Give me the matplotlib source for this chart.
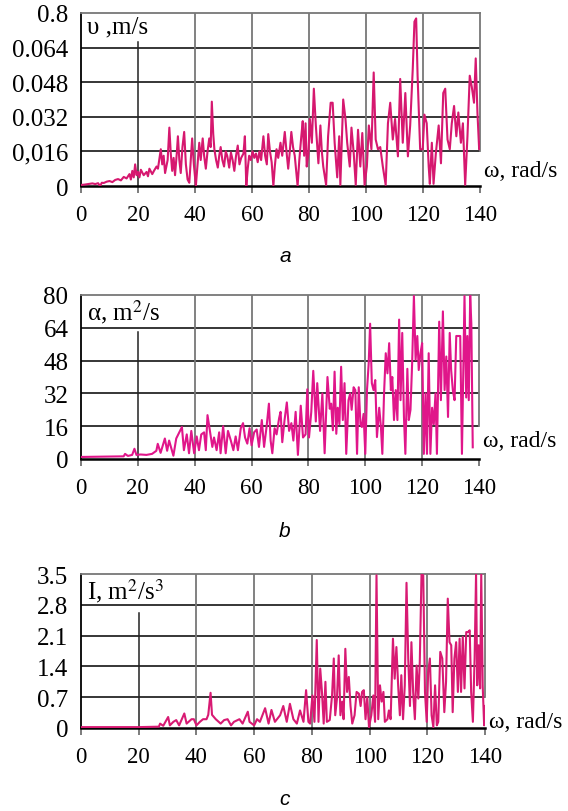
import numpy as np
import matplotlib
matplotlib.use('Agg')
import matplotlib.pyplot as plt

plt.rcParams['font.family'] = ['Liberation Serif', 'DejaVu Serif']
plt.rcParams['mathtext.fontset'] = 'stix'

# ---------------- data ----------------
x_ticks = [0, 20, 40, 60, 80, 100, 120, 140]
x_ticklabels = ["0", "20", "40", "60", "80", "100", "120", "140"]

# panel a: velocity, in units of 1e-3 m/s
omega_a = [0, 1, 2, 3, 4, 5, 6, 6.7, 7.3, 8, 9, 10, 11, 12, 13, 14, 15, 16, 17, 17.5,
           18, 18.5, 19, 19.5, 20, 20.5, 21, 22, 23, 23.5, 24, 25, 25.6, 26.5, 27, 28, 28.5, 29, 29.5, 30.4,
           31, 31.5, 32, 32.5, 33, 33.6, 34, 34.5, 35, 35.6, 36.2, 36.8, 37.4, 38, 38.5, 39, 39.6, 40.3,
           41, 41.5, 42, 42.7, 43.2, 43.8, 44.4, 45, 45.5, 45.9, 46.4, 46.8, 47.4, 48, 48.5, 49, 49.6,
           50.2, 50.8, 51.3, 52, 52.6, 53.2, 53.8, 54.4, 55, 55.6, 56.2, 57, 57.5, 58, 58.5, 59, 59.6,
           60.2, 60.8, 61.4, 62, 62.6, 63.2, 64, 64.6, 65.2, 65.7, 66.3, 66.9, 67.5, 68, 68.6, 69.2,
           70, 70.6, 71.5, 72.1, 72.7, 73.2, 73.8, 74.4, 75, 75.5, 76, 76.6, 77.3, 77.8, 78.3, 78.8,
           79.2, 79.8, 80.3, 81, 81.7, 82.4, 83.3, 84, 84.5, 85, 86, 86.7, 87.6, 88.3, 89, 89.9, 90.6,
           91, 92, 92.8, 93.4, 94.3, 94.9, 95.7, 96.4, 97.2, 98, 98.7, 99.5, 100.3, 101, 101.9, 102.7,
           103.4, 104.2, 105, 105.9, 106.9, 107.7, 108.5, 109.4, 110.2, 111.2, 112, 112.9, 113.8,
           114.7, 115.5, 116.4, 117, 117.6, 118.1, 119, 119.9, 120.5, 121.3, 122, 122.4, 123.1,
           123.7, 124.5, 125.5, 126.3, 127.1, 127.8, 128.6, 129.4, 130.1, 130.9, 131.7, 132.4,
           133.3, 134, 134.8, 135.6, 136.4, 137.1, 137.9, 138.5, 139.1, 139.7, 140]
v_a = [0.5, 0.6, 0.8, 1.0, 1.2, 0.9, 1.3, 0, 1.5, 1.4, 2.0, 2.3, 1.8, 2.8, 3.2, 2.6, 4.2, 3.5, 5.5, 3,
       7, 4, 10, 5, 6.5, 4, 7.5, 5, 6.5, 4.5, 8, 5.5, 7, 9, 8, 17, 10, 14, 6, 12,
       27, 15, 7, 13, 5, 15, 23, 12, 6, 18, 25, 10, 3, 1.5, 12, 22, 10, 0,
       12, 20, 12, 22, 14, 8, 16, 22, 18, 39, 24, 17, 12, 8.5, 14, 18, 12,
       9, 16, 14, 8.5, 15.5, 12, 7, 14, 18.7, 10, 13, 15, 23, 0, 8, 14, 12,
       16, 13, 15, 11, 16, 12, 23, 14, 10, 24, 16, 11, 0, 9, 17, 13,
       20, 14, 25, 16, 8, 15, 25, 18, 14, 7, 0, 12, 23, 30, 14, 29,
       9, 15, 31, 20, 45, 28, 10.5, 28, 16, 9, 0.5, 23, 38.5, 38.5, 20, 4, 23,
       0.5, 40, 31, 20, 9, 27, 15, 0.5, 26, 9, 24.5, 0.5, 9, 28, 17, 52.5,
       21.5, 17, 18, 9, 0.5, 29, 38.5, 21.5, 31, 13.7, 49.5, 20, 43,
       13.7, 28, 54, 76, 77.5, 51, 17, 17, 33, 29, 9, 1, 20,
       1, 15, 28, 10.5, 43, 45, 21.5, 17, 29, 37, 23, 34,
       20, 29, 0.5, 23, 51, 46, 38.5, 59, 34, 17, 20]
yticks_a = [0, 16, 32, 48, 64, 80]
ylabels_a = ["0", "0,016", "0.032", "0.048", "0.064", "0.8"]

# panel b: alpha, m^2/s
omega_b = [0, 5, 10, 15, 15.5, 16.5, 18, 18.8, 19.5, 21, 23, 25, 26.5, 27, 28, 29.5, 30.3, 31, 32.5,
           33.5, 35.5, 36.2, 37.2, 38, 38.8, 39.8, 40.7, 41.5, 42.3, 43.3, 43.9, 44.5, 45.4, 46.2,
           46.8, 47.7, 48.6, 49.1, 50, 50.9, 51.7, 52.7, 53.6, 54.4, 55.2, 56.2, 57, 57.7, 58.5,
           59.3, 60, 60.9, 61.8, 62.6, 63.6, 64.4, 65.3, 66.1, 66.7, 67.3, 68.1, 68.8, 69.7, 70.2,
           70.8, 71.6, 72.4, 73.2, 74, 74.7, 75.5, 76.3, 77.3, 78.1, 79, 79.6, 80.2, 81, 81.7, 82.6,
           83.1, 84.1, 84.9, 85.7, 86.7, 87.5, 88, 88.6, 89.2, 89.8, 90.3, 90.9, 91.5, 92.1, 92.7,
           93.3, 94.1, 94.7, 95.2, 95.9, 96.5, 97.1, 97.7, 98.3, 98.8, 99.4, 100, 100.6, 101.2,
           101.7, 102.3, 102.9, 103.5, 104.1, 104.9, 105.5, 106, 106.6, 107.2, 107.8, 108.4, 109,
           109.5, 110.1, 110.7, 111.3, 111.9, 112.4, 113, 113.6, 114.1, 114.8, 115.3, 115.9, 116.5,
           117.1, 117.7, 118.3, 118.8, 119.4, 120, 120.6, 121.2, 121.7, 122.3, 122.9, 123.5, 124.1,
           124.7, 125.2, 126, 126.6, 127.3, 127.9, 128.5, 129.1, 129.7, 130.2, 130.8, 131.4, 132,
           133.4, 134, 134.5, 134.9, 135.5, 135.9, 136.4, 136.9, 137.3, 137.8]
alpha_b = [1.0, 1.1, 1.2, 1.3, 2.5, 1.5, 2, 5, 2, 2.2, 2, 2.5, 4, 7.4, 3, 10, 4, 9, 1.6,
           10, 15.6, 4.3, 12, 2.8, 13.7, 2.8, 11, 4.3, 12, 13, 4.3, 21.4, 13, 5.9,
           10.5, 4.3, 13, 2.8, 16, 2.8, 13.7, 9, 4.3, 11, 4.3, 15, 17.5, 10.5, 7.5,
           15, 6.7, 13, 14.4, 5.9, 19, 5.9, 16, 27, 9, 2.8, 15, 12, 20, 23,
           8.2, 19, 27.6, 13.7, 17.5, 9, 23, 2, 26, 10.5, 12, 34, 10.5, 23, 43, 18.3,
           37, 13.7, 32, 2.8, 40, 24.5, 27, 14, 42.6, 12.3, 25, 17, 45, 19, 37,
           2.5, 28.7, 32, 24, 35, 33.6, 2.5, 35, 17, 15.6, 22, 2.5, 33.6, 46.7,
           66, 37, 33.6, 38.5, 10.7, 25, 15.6, 2.5, 32, 51.6, 41.8, 56.5, 33.6,
           40, 19, 33.6, 19, 68, 28.7, 61.5, 20.5, 2.5, 44, 19, 24, 47.5,
           79.5, 48.4, 60, 43.4, 51.6, 56.5, 2.5, 32, 2.5, 51.6, 2.5, 25, 17,
           32, 2.5, 67, 28.7, 72, 33.6, 50, 20.5, 61.5, 43.4, 33.6, 28.7, 60,
           60, 2.5, 46.7, 79.5, 30, 60, 28.7, 80, 66, 5.7]
yticks_b = [0, 16, 32, 48, 64, 80]
ylabels_b = ["0", "16", "32", "48", "64", "80"]

# panel c: I, m^2/s^3
omega_c = [0, 10, 20, 27, 27.4, 28.5, 30.2, 30.8, 32, 33, 34, 35.8, 36.6, 38.3, 39.1, 40, 41.2,
           42.3, 43.5, 44.1, 44.9, 45.4, 46.7, 48.4, 49.6, 50.8, 52, 53, 54.9, 56, 57.8, 58.4, 60,
           61, 62, 63.8, 65, 66, 67.2, 69, 70.1, 71.3, 72.4, 73.6, 74.8, 75.9, 77.1, 78, 78.8,
           79.4, 80.2, 80.9, 81.7, 82.3, 82.9, 83.5, 84.1, 84.7, 85.2, 86.2, 87, 87.6, 88.1, 88.7,
           89.3, 89.9, 90.5, 91, 91.6, 92.2, 92.8, 93.4, 94, 94.8, 95.5, 96.3, 96.9, 97.4, 98,
           98.6, 99.2, 99.8, 100.6, 101.3, 101.9, 102.4, 103, 103.6, 104.2, 104.8, 105.3, 106.2,
           106.7, 107.3, 108.1, 108.7, 109.3, 109.9, 110.5, 111, 111.6, 112.2, 112.8, 113.4, 114,
           114.5, 115.1, 115.7, 116.3, 116.9, 117.4, 118, 118.6, 119.2, 119.8, 120.3, 120.9, 121.5,
           122.1, 122.7, 123.3, 123.8, 124.5, 125.2, 125.9, 126.5, 127.1, 127.7, 128.3, 128.8,
           129.4, 130, 130.6, 131.2, 131.7, 132.3, 132.9, 133.5, 134.1, 134.7, 135.2, 135.8,
           136.4, 136.9, 137.3, 137.8, 138.3, 138.7, 139.2, 139.7, 140]
I_c = [0.02, 0.02, 0.02, 0.03, 0.1, 0.05, 0.25, 0.06, 0.14, 0.18, 0.06, 0.33, 0.1, 0.2, 0.2, 0.06, 0.14,
       0.2, 0.2, 0.3, 0.8, 0.3, 0.2, 0.1, 0.18, 0.2, 0.06, 0.14, 0.2, 0.1, 0.37, 0.14, 0.06,
       0.2, 0.14, 0.45, 0.1, 0.41, 0.14, 0.29, 0.5, 0.14, 0.55, 0.2, 0.1, 0.4, 0.14, 0.86, 0.14,
       0.1, 0.74, 0.14, 2.0, 0.14, 1.35, 0.82, 0.1, 1.05, 0.14, 0.18, 0.74, 1.58, 0.29, 0.67,
       1.65, 0.29, 0.6, 0.2, 1.8, 0.82, 1.16, 0.5, 0.1, 0.29, 0.82, 0.78, 0.5, 0.82, 0.86,
       0.2, 0.7, 0.02, 0.29, 0.74, 0.14, 3.47, 0.2, 0.97, 0.6, 0.82, 0.14, 0.2,
       0.4, 0.2, 2.03, 1.12, 1.84, 0.97, 0.29, 1.2, 0.2, 0.97, 3.3, 1.58, 0.5,
       1.95, 0.82, 0.2, 1.42, 0.67, 1.5, 3.5, 3.47, 0.82, 0.14, 1.27, 1.58, 0.29,
       0.02, 0.97, 0.06, 0.14, 1.73, 1.58, 0.36, 1.05, 2.94, 1.95, 1.88, 0.36,
       1.58, 1.95, 0.82, 2.03, 0.82, 2.07, 0.9, 2.18, 2.18, 2.22, 0.82, 0.14,
       1.58, 3.5, 0.97, 1.88, 0.9, 3.5, 0.97, 0.06, 0.5]
yticks_c = [0, 0.7, 1.4, 2.1, 2.8, 3.5]
ylabels_c = ["0", "0.7", "1.4", "2.1", "2.8", "3.5"]

# ---------------- figure ----------------
W, H = 568, 812
fig = plt.figure(figsize=(W / 100, H / 100), dpi=100)

def px_axes(left, top, right, bottom):
    return fig.add_axes([left / W, 1 - bottom / H, (right - left) / W, (bottom - top) / H])

panels = [
    dict(box=(81, 14, 480, 187), x=omega_a, y=v_a, yt=yticks_a, yl=ylabels_a,
         color='#d6186f', f20=0.83, title='υ ,m/s', wy=0.09, letter='a', ly=256),
    dict(box=(81, 296, 479, 460), x=omega_b, y=alpha_b, yt=yticks_b, yl=ylabels_b,
         color='#e0168a', f20=0.775, title=r'α, m$^2$/s', wy=0.11, letter='b', ly=532),
    dict(box=(81, 575, 485, 729), x=omega_c, y=I_c, yt=yticks_c, yl=ylabels_c,
         color='#d81a73', f20=0.75, title=r'I, m$^2$/s$^3$', wy=0.045, letter='c', ly=800),
]

for p in panels:
    ax = px_axes(*p['box'])
    ax.set_xlim(0, 140)
    ax.set_ylim(p['yt'][0], p['yt'][-1])
    ax.set_xticks(x_ticks)
    ax.set_xticklabels(x_ticklabels, fontsize=16.5)
    ax.set_yticks(p['yt'])
    ax.set_yticklabels(p['yl'], fontsize=18)
    ax.tick_params(axis='y', length=0, pad=9)
    ax.tick_params(axis='x', length=5, width=1.2, color='#666666', pad=8)
    # grid: horizontal black, vertical grey
    for yv in p['yt'][1:-1]:
        ax.axhline(yv, color='black', lw=1.1, zorder=1)
    for xv in x_ticks[1:-1]:
        if xv == 20:
            ax.axvline(xv, ymax=p['f20'], color='#222222', lw=1.1, zorder=1)
        else:
            ax.axvline(xv, color='#777777', lw=1.3, zorder=1)
    # right edge only down to first gridline
    ax.axvline(140, ymin=0.2, color='#777777', lw=1.3, zorder=1, clip_on=False)
    ax.spines['right'].set_visible(False)
    ax.spines['top'].set_color('#777777')
    ax.spines['top'].set_linewidth(1.3)
    ax.spines['left'].set_color('black')
    ax.spines['left'].set_linewidth(1.3)
    ax.spines['bottom'].set_color('black')
    ax.spines['bottom'].set_linewidth(1.8)
    ax.plot(p['x'], p['y'], color=p['color'], lw=1.5, zorder=3)
    ax.text(0.015, 0.985, p['title'], transform=ax.transAxes, fontsize=18,
            ha='left', va='top', zorder=4)
    ax.text(1.01, p['wy'], 'ω, rad/s', transform=ax.transAxes, fontsize=17,
            ha='left', va='center')
    fig.text(285 / W, 1 - p['ly'] / H, p['letter'], fontsize=15, style='italic',
             family='Liberation Sans', ha='center', va='center')

fig.savefig('out.png', dpi=100)
